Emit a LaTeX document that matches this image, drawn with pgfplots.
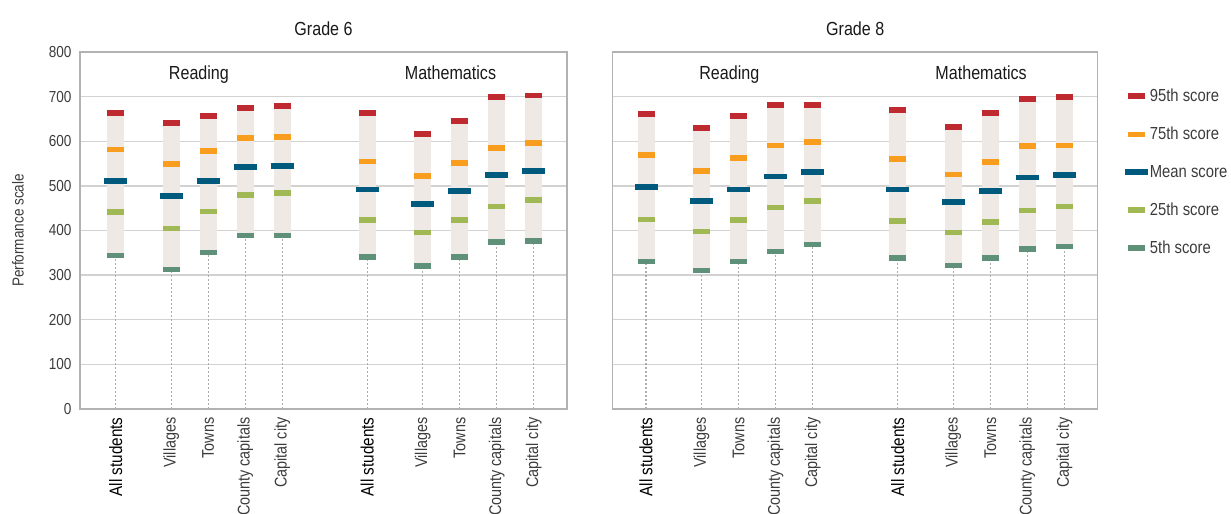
\documentclass[border=0pt]{standalone}
\usepackage{fontspec}
\setmainfont{Liberation Sans}[FakeStretch=0.85]
\usepackage{pgfplots}
\usepackage{pgfplotstable}
\pgfplotsset{compat=1.18}

\definecolor{c95}{HTML}{BF2930}
\definecolor{c75}{HTML}{F99D1F}
\definecolor{cmean}{HTML}{005A7D}
\definecolor{c25}{HTML}{A1B954}
\definecolor{c5}{HTML}{5F917A}
\definecolor{boxc}{HTML}{EEE9E5}
\definecolor{txt}{HTML}{3C3C3C}

% x: category position, then the five scores
\pgfplotstableread{
x    p95 p75 mean p25 p5
0    663 582 511 441 344
1.5  641 549 477 405 313
2.5  657 578 511 443 351
3.5  675 607 542 479 389
4.5  679 609 544 484 389
6.8  663 555 492 423 341
8.3  616 522 459 396 321
9.3  645 551 488 423 341
10.3 699 585 524 454 374
11.3 702 596 533 468 376
}\gradesix

\pgfplotstableread{
x    p95 p75 mean p25 p5
0    661 569 497 425 331
1.5  630 533 466 398 310
2.5  657 562 492 423 331
3.5  681 591 521 452 353
4.5  681 598 531 466 369
6.8  670 560 492 421 338
8.3  632 526 464 396 322
9.3  663 553 488 419 338
10.3 695 589 519 445 359
11.3 699 591 524 454 364
}\gradeeight

\newcommand\allst{\color{black}\fontsize{18}{20}\selectfont All students}

\pgfplotsset{
  panel/.style={
    scale only axis,
    anchor=south west,
    height=357bp,
    xmax=12.2, ymin=0, ymax=800,
    ytick={0,100,...,800},
    xtick={0,1.5,2.5,3.5,4.5,6.8,8.3,9.3,10.3,11.3},
    xticklabels={\allst,Villages,Towns,County capitals,Capital city,
                 \allst,Villages,Towns,County capitals,Capital city},
    major tick length=0pt,
    ymajorgrids,
    grid style={color=gray!35, line width=1.4bp},
    axis line style={color=gray!60, line width=1.4bp},
    tick label style={font=\fontsize{16}{18}\selectfont, color=txt},
    yticklabel style={xshift=-5bp},
    /pgf/number format/assume math mode=true,
    xticklabel style={rotate=90, anchor=east, font=\fontsize{17}{19}\selectfont, xshift=-5bp},
    title style={font=\fontsize{19}{21}\selectfont, color=black!90, at={(0.5,1)}, anchor=base, yshift=11bp},
    clip=false,
  },
}

\newcommand\drawpanel[1]{
  \addplot[ycomb, forget plot, color=gray!65, line width=1.3bp, dash pattern=on 2bp off 2bp]
    table[x=x, y=p5] {#1};
  \addplot[draw=none, forget plot, error bars/.cd, y dir=plus, y explicit,
      error mark=none, error bar style={line width=17bp, color=boxc}]
    table[x=x, y=p5, y error expr=\thisrow{p95}-\thisrow{p5}] {#1};
  \addplot[only marks, mark=-, mark size=8.5bp, color=c95, mark options={line width=5.5bp}]
    table[x=x, y=p95] {#1};
  \addplot[only marks, mark=-, mark size=8.5bp, color=c75, mark options={line width=5.5bp}]
    table[x=x, y=p75] {#1};
  \addplot[only marks, mark=-, mark size=11.5bp, color=cmean, mark options={line width=5.5bp}]
    table[x=x, y=mean] {#1};
  \addplot[only marks, mark=-, mark size=8.5bp, color=c25, mark options={line width=5.5bp}]
    table[x=x, y=p25] {#1};
  \addplot[only marks, mark=-, mark size=8.5bp, color=c5, mark options={line width=5.5bp}]
    table[x=x, y=p5] {#1};
  \node[font=\fontsize{19}{21}\selectfont, color=black!90, anchor=base] at (axis cs:2.25,739) {Reading};
  \node[font=\fontsize{19}{21}\selectfont, color=black!90, anchor=base] at (axis cs:9.05,739) {Mathematics};
}

\begin{document}
\begin{tikzpicture}
\useasboundingbox (0,0) rectangle (1231bp,514bp);

\begin{axis}[panel, at={(80bp,105bp)}, width=487bp, xmin=-0.965,
    title={Grade 6},
    ylabel={Performance scale},
    ylabel style={at={(axis description cs:-0.1273,0.5)}, anchor=center,
                  font=\fontsize{16}{18}\selectfont, color=txt},
  ]
  \drawpanel{\gradesix}
\end{axis}

\begin{axis}[panel, at={(612.7bp,105bp)}, width=485bp, xmin=-0.9,
    title={Grade 8},
    yticklabels={},
    legend style={draw=none, fill=none, at={(1,1)}, anchor=north west,
                  xshift=24bp, yshift=-33bp, row sep=20bp,
                  font=\fontsize{17.5}{19}\selectfont, text=txt},
    legend cell align=left,
  ]
  \drawpanel{\gradeeight}
  \legend{95th score,75th score,Mean score,25th score,5th score}
\end{axis}
\end{tikzpicture}
\end{document}
